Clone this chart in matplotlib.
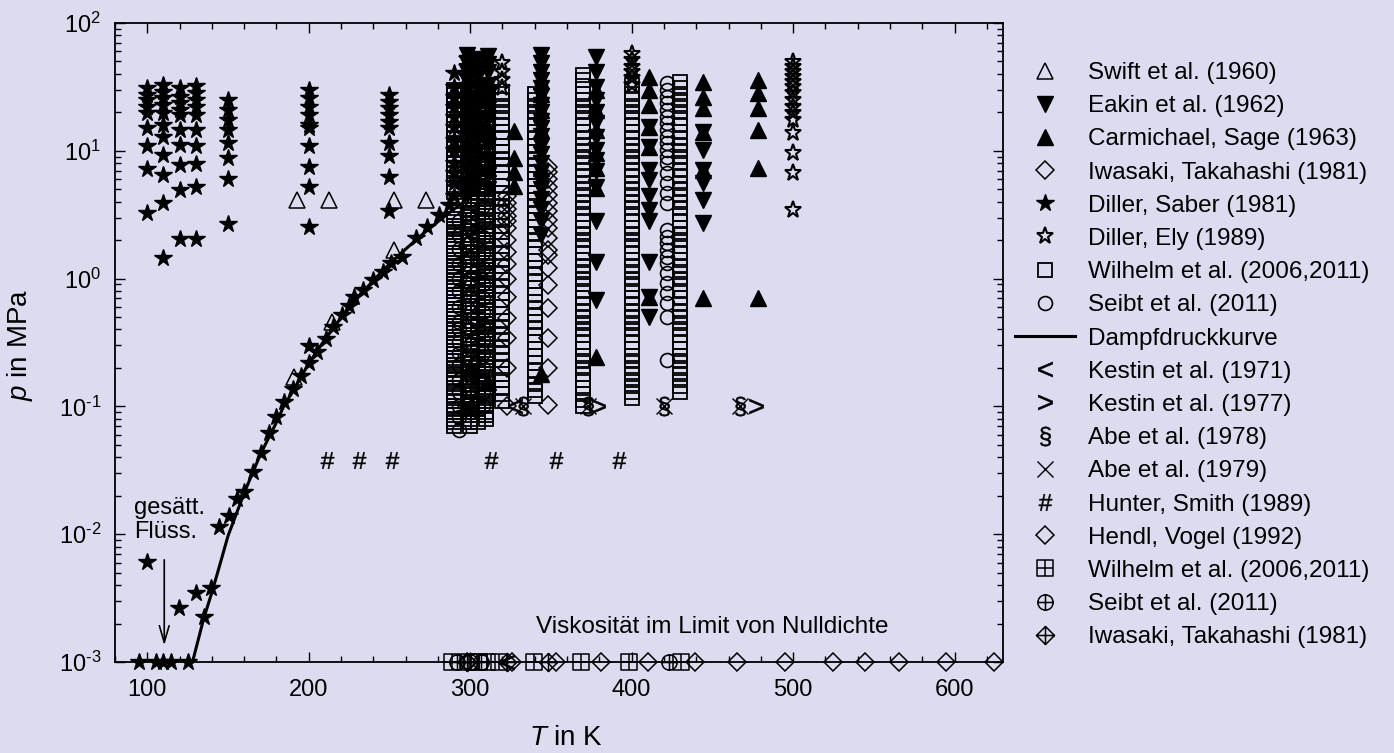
import matplotlib
matplotlib.use('Agg')
import matplotlib.pyplot as plt
from matplotlib.path import Path
from matplotlib.lines import Line2D
from matplotlib.ticker import MultipleLocator, LogLocator, NullFormatter, FuncFormatter
import math

plt.rcParams['font.family'] = ['Liberation Sans', 'DejaVu Sans']
plt.rcParams['mathtext.fontset'] = 'custom'
plt.rcParams['mathtext.rm'] = 'Liberation Sans'
plt.rcParams['mathtext.it'] = 'Liberation Sans:italic'
plt.rcParams['mathtext.bf'] = 'Liberation Sans:bold'

BG = '#dcdcf0'
P0 = 1e-3  # zero-density row (plotted on the axis)

# ---------------- data (T in K, p in MPa) ----------------
# Vapour pressure curve (Dampfdruckkurve)
vp_T = [128, 135, 140, 145, 150, 160, 170, 180, 184.6, 190, 200, 210, 220, 230,
        240, 250, 260, 270, 280, 290, 300, 305.3]
vp_p = [0.001, 0.0022, 0.0035, 0.0058, 0.0097, 0.021, 0.042, 0.075, 0.101, 0.13,
        0.217, 0.334, 0.492, 0.70, 0.967, 1.30, 1.70, 2.20, 2.79, 3.50, 4.35, 4.87]

# Swift et al. (1960)
swift_T = [192.9, 212.7, 252.9, 272.8, 191, 214.6, 253]
swift_p = [4.12, 4.12, 4.12, 4.12, 0.17, 0.46, 1.67]

# Eakin et al. (1962)
eakin = {298: [56, 49, 41, 35, 30, 25, 21, 17, 14, 11, 9, 7, 5.5, 4.5],
         304: [52, 44, 37, 31, 26, 21.5, 17.5, 14.5, 12, 9.8, 8, 6.3, 5.2],
         311: [55, 48, 41, 33, 27, 22, 18, 14, 11, 8.5, 6.5, 5],
         344: [56, 48.5, 41.5, 35.8, 30.8, 27, 23, 20, 17, 15, 13, 11, 9.5, 8,
               6.8, 5.8, 5, 4.2, 3.5, 2.8, 2.2],
         378: [54.6, 41.6, 31.8, 25, 20.2, 16.4, 12.8, 10.1, 8.5, 6.9, 5.2, 2.8,
               1.35, 0.68],
         411: [15.4, 10.8, 7.1, 5.9, 4.4, 3.45, 2.8, 1.35, 0.72, 0.5],
         444: [14.1, 10.1, 7.1, 5.6, 4.1, 2.7]}

# Carmichael, Sage (1963)
carm = {300: [0.205],
        311: [0.156, 35, 28, 21, 14.5, 7.3],
        327: [14.4, 8.8, 6.8, 5.3],
        344: [0.18, 35, 28, 21, 14.5, 7.3],
        378: [29.9, 20.9, 14.6, 9.6, 7.3, 5.1, 0.245],
        411: [38, 29.9, 22.8, 15.4, 10.8, 0.72],
        444: [34.7, 26.5, 21.5, 14.1, 7.1, 0.70],
        478: [35.8, 28.3, 21.6, 14.5, 7.3, 0.70]}

# Iwasaki, Takahashi (1981)
iwa = {298: [0.1, 0.15, 0.25, 0.4, 0.6, 0.9, 1.3, 1.8, 2.5, 3.2],
       323: [0.1, 0.2, 0.34, 0.49, 0.72, 1.0, 1.3, 1.62, 2.0, 2.48, 2.8, 3.1,
             3.5, 3.9, 4.4],
       348: [0.103, 0.2, 0.34, 0.59, 0.89, 1.2, 1.53, 1.68, 2.07, 2.48, 2.9, 3.4,
             3.9, 4.5, 5.2, 6.0, 6.8, 7.5]}

# Diller, Saber (1981)
dsab = {100: [30.8, 27.4, 24.9, 22.1, 19.6, 15.0, 10.9, 7.2, 3.24],
        110: [32.7, 29.0, 25.7, 22.8, 19.6, 15.9, 12.8, 9.27, 6.47, 3.88, 1.44],
        120: [30.8, 26.5, 23.5, 20.9, 19.1, 14.6, 11.1, 7.74, 4.93, 2.03],
        130: [32.1, 28.2, 25.0, 22.1, 19.1, 14.6, 10.9, 7.9, 5.2, 2.03],
        150: [25.0, 20.9, 17.4, 14.6, 11.5, 8.74, 5.98, 2.67],
        200: [29.9, 25.7, 22.1, 19.1, 15.9, 15.0, 10.9, 7.52, 5.24, 2.55],
        250: [27.4, 24.2, 21.5, 19.1, 16.9, 15.0, 11.5, 9.1, 6.27, 3.4],
        290: [40.6, 31.7, 26.5, 22.1, 18.5, 15.4, 12.1, 10.1, 8.0, 6.7, 5.6, 4.4]}
dsab_sat_T = [135.3, 139.4, 144.6, 150.8, 155.3, 160, 165.2, 170.3, 175.1, 179.6,
              184.8, 190, 195.2, 200.3, 205.4, 210.6, 215.3, 220.5, 225, 228.2,
              233.3, 239.5, 245.7, 250.9, 258, 266.3, 273.5, 280.8, 287,
              100, 119.8, 130.1, 200.3]
dsab_sat_p = [0.00226, 0.00377, 0.01145, 0.0139, 0.019, 0.0215, 0.0308, 0.043,
              0.0622, 0.083, 0.109, 0.136, 0.173, 0.217, 0.268, 0.335, 0.42, 0.519,
              0.61, 0.72, 0.81, 0.975, 1.13, 1.32, 1.48, 2.06, 2.55, 3.15, 3.77,
              0.0061, 0.00263, 0.00349, 0.297]
dsab_liq_T = [95, 105.4, 109.5, 114.7, 125]   # saturated liquid, drawn on axis

# Diller, Ely (1989)
dely = {298: [52, 45, 38],
        320: [48.5, 41.5, 35.8, 30.8],
        400: [57, 51, 45.5, 41, 37, 33],
        500: [49.8, 45.5, 41.6, 38.0, 34.7, 31.4, 28.2, 25.0, 22.1, 19.6, 17.4,
              13.7, 9.67, 6.74, 3.44]}

# Wilhelm et al. (2006, 2011)
wil = {
    290: [0.07, 0.075, 0.08, 0.085, 0.09, 0.095, 0.10, 0.11, 0.12, 0.13, 0.14, 0.15,
          0.16, 0.17, 0.18, 0.195, 0.21, 0.225, 0.24, 0.255, 0.27, 0.29, 0.31,
          0.33, 0.35, 0.375, 0.40, 0.425, 0.45, 0.48, 0.51, 0.545, 0.58, 0.62,
          0.66, 0.705, 0.75, 0.8, 0.85, 0.9, 0.96, 1.03, 1.1, 1.17, 1.25, 1.33,
          1.4, 1.5, 1.6, 1.7, 1.8, 1.92, 2.05, 2.18, 2.3, 2.45, 2.6, 2.78, 2.95,
          3.12, 3.3, 4.8, 5.4, 6.0, 6.6, 7.2, 7.9, 8.6, 9.4, 10.3, 11.3, 12.3,
          13.5, 14.7, 16.1, 17.6, 19.2, 21, 23, 25, 27.5, 30],
    300: [0.07, 0.075, 0.08, 0.085, 0.09, 0.095, 0.10, 0.107, 0.115, 0.122, 0.13,
          0.14, 0.15, 0.16, 0.17, 0.185, 0.2, 0.215, 0.23, 0.245, 0.26, 0.28, 0.3,
          0.32, 0.34, 0.365, 0.39, 0.415, 0.44, 0.47, 0.5, 0.535, 0.57, 0.61,
          0.65, 0.695, 0.74, 0.79, 0.84, 0.9, 0.95, 1.01, 1.08, 1.15, 1.23, 1.31,
          1.4, 1.5, 1.6, 1.71, 1.82, 1.94, 2.07, 2.21, 2.36, 2.53, 2.7, 2.87,
          3.05, 3.25, 3.45, 3.67, 3.9, 4.05, 4.2, 5.0, 5.5, 6.0, 6.6, 7.2, 7.9,
          8.7, 9.5, 10.4, 11.4, 12.5, 13.7, 15, 16.4, 18, 19.7, 21.6, 23.6, 25.9,
          28.3],
    305: [0.075, 0.085, 0.095, 0.105, 0.12, 0.135, 0.15, 0.17, 0.19, 0.215, 0.24,
          0.27, 0.3, 0.34, 0.38, 0.43, 0.48, 0.54, 0.61, 0.69, 0.78, 0.88, 0.99,
          1.12, 1.26, 1.42, 1.6, 1.8, 2.03, 2.29, 2.58, 2.91, 3.28, 3.7, 4.17,
          4.7, 5.3, 6.0, 6.8, 7.7, 8.7, 9.8, 11, 12.4, 14, 15.8, 17.8, 20, 22.6,
          25.5, 29],
    310: [0.08, 0.085, 0.09, 0.1, 0.105, 0.11, 0.12, 0.125, 0.14, 0.15, 0.16,
          0.17, 0.18, 0.2, 0.215, 0.23, 0.245, 0.26, 0.29, 0.31, 0.33, 0.35,
          0.37, 0.395, 0.42, 0.445, 0.47, 0.5, 0.53, 0.565, 0.6, 0.64, 0.68,
          0.72, 0.77, 0.82, 0.87, 0.92, 0.98, 1.04, 1.1, 1.17, 1.25, 1.33, 1.4,
          1.5, 1.6, 1.7, 1.8, 1.9, 2.0, 2.15, 2.3, 2.45, 2.6, 2.75, 2.9, 3.1,
          3.3, 3.5, 3.7, 3.95, 4.2, 4.45, 4.7, 5.0, 5.3, 5.65, 6.0, 6.4, 6.8,
          7.25, 7.7, 8.2, 8.7, 9.25, 9.8, 10.4, 11, 11.7, 12.5, 13.2, 14, 15,
          16, 17, 18, 19, 20, 21.5, 23, 24.5, 26, 28, 30],
    320: [0.11, 0.125, 0.14, 0.16, 0.18, 0.2, 0.23, 0.26, 0.29, 0.33, 0.37, 0.42,
          0.47, 0.53, 0.6, 0.68, 0.77, 0.87, 0.98, 1.1, 1.25, 1.4, 1.6, 1.8, 2.0,
          2.3, 2.6, 2.9, 3.3, 3.7, 4.2, 4.7, 5.3, 6.0, 6.8, 7.7, 8.7, 9.8, 11,
          12.5, 14, 16, 18, 20, 22.5, 25, 28],
    340: [0.12, 0.135, 0.15, 0.17, 0.19, 0.22, 0.25, 0.28, 0.32, 0.36, 0.41, 0.46,
          0.52, 0.59, 0.66, 0.75, 0.85, 0.96, 1.08, 1.22, 1.38, 1.56, 1.76, 2.0,
          2.25, 2.55, 2.9, 3.25, 3.7, 4.15, 4.7, 5.3, 6.0, 6.8, 7.7, 8.7, 9.8, 11,
          12.5, 14, 16, 18, 20, 22.5, 25, 28],
    370: [0.1, 0.112, 0.125, 0.14, 0.16, 0.18, 0.2, 0.225, 0.25, 0.28, 0.32, 0.36,
          0.4, 0.45, 0.5, 0.56, 0.63, 0.71, 0.8, 0.9, 1.0, 1.12, 1.25, 1.4, 1.6,
          1.8, 2.0, 2.25, 2.5, 2.8, 3.2, 3.6, 4.0, 4.5, 5.0, 5.6, 6.3, 7.1, 8.0,
          9.0, 10, 11.2, 12.5, 14, 16, 18, 20, 22.5, 25, 28, 32, 35.5, 39],
    400: [0.117, 0.13, 0.145, 0.16, 0.18, 0.2, 0.225, 0.25, 0.28, 0.32, 0.36, 0.4,
          0.45, 0.5, 0.56, 0.63, 0.71, 0.8, 0.9, 1.0, 1.12, 1.25, 1.4, 1.6, 1.8,
          2.0, 2.25, 2.5, 2.8, 3.2, 3.6, 4.0, 4.5, 5.0, 5.6, 6.3, 7.1, 8.0, 9.0,
          10, 11.2, 12.5, 14, 16, 18, 20, 22.5, 25, 28, 32.7],
    430: [0.13, 0.145, 0.16, 0.18, 0.2, 0.225, 0.25, 0.28, 0.32, 0.36, 0.4, 0.45,
          0.5, 0.56, 0.63, 0.71, 0.8, 0.9, 1.0, 1.12, 1.25, 1.4, 1.6, 1.8, 2.0,
          2.25, 2.5, 2.8, 3.2, 3.6, 4.0, 4.5, 5.0, 5.6, 6.3, 7.1, 8.0, 9.0, 10,
          11.2, 12.5, 14, 16, 18, 20, 22.5, 25, 28, 31, 34.7]}

# Seibt et al. (2011)
seibt = {293: [0.065, 0.083, 0.1, 0.13, 0.16, 0.21, 0.26, 0.32, 0.4, 0.46, 0.6,
               0.8, 1.0, 1.3, 1.7, 2.2, 2.8],
         300: [0.09, 0.11, 0.14, 0.18, 0.23, 0.3, 0.4, 0.55, 0.75, 1.0, 1.4, 1.9,
               2.6, 3.5],
         308: [0.1, 0.13, 0.16, 0.2, 0.26, 0.33, 0.42, 0.55, 0.7, 0.9, 1.2, 1.6,
               2.1, 2.8, 3.7, 5, 6.5, 8.5, 11, 14.5, 19, 25, 30],
         422: [33.7, 29.9, 26.5, 23.5, 20.9, 18.5, 16.4, 14.6, 12.9, 11.5, 10.1,
               9.0, 8.0, 6.7, 5.6, 4.66, 3.9, 2.4, 2.13, 1.89, 1.68, 1.48, 1.32,
               1.1, 0.92, 0.77, 0.64, 0.50, 0.23]}

# Atmospheric / zero-density data
kestin71_T = [298, 328]
kestin71_p = [0.1, 0.1]
kestin71_0_T = [323]
kestin77_T = [379, 477]
kestin77_p = [0.1, 0.1]
abe78_T = [298, 333, 373, 420, 467]
abe78_p = [0.1, 0.1, 0.1, 0.1, 0.1]
abe79_T = [333, 373, 420, 467]
abe79_p = [0.1, 0.1, 0.1, 0.1]
hunter_T = [211.5, 231, 251.7, 312.8, 353, 392.3]
hunter_p = [0.038, 0.038, 0.038, 0.038, 0.038, 0.038]
hendl0_T = [298, 326, 353, 381, 410, 439, 465.5, 495, 524.4, 544.4, 565.6, 594.5,
            624.5]
wil0_T = [289, 299.4, 305.6, 310.7, 318, 339.6, 368.5, 398.5, 430.5]
seibt0_T = [292, 300, 306.5, 423]
iwa0_T = [298, 323, 348]


def flat(d):
    T, p = [], []
    for t, ps in d.items():
        T += [t] * len(ps)
        p += list(ps)
    return T, p


# custom markers
MV, LN, CL = Path.MOVETO, Path.LINETO, Path.CLOSEPOLY
hline = Path([(-1, 0), (1, 0)], [MV, LN])
vline = Path([(0, -1), (0, 1)], [MV, LN])
sq = Path([(-1, -1), (1, -1), (1, 1), (-1, 1), (-1, -1)], [MV, LN, LN, LN, CL])
dia = Path([(0, 1), (1, 0), (0, -1), (-1, 0), (0, 1)], [MV, LN, LN, LN, CL])
boxplus = Path.make_compound_path(sq, hline, vline)
oplus = Path.make_compound_path(Path.unit_circle(), hline, vline)
diaplus = Path.make_compound_path(dia, hline, vline)

K = 'black'
styles = [
    ('Swift et al. (1960)', dict(marker='^', ms=12, mfc='none', mec=K, mew=1.1)),
    ('Eakin et al. (1962)', dict(marker='v', ms=12, mfc=K, mec=K, mew=1.0)),
    ('Carmichael, Sage (1963)', dict(marker='^', ms=12, mfc=K, mec=K, mew=1.0)),
    ('Iwasaki, Takahashi (1981)', dict(marker='D', ms=9, mfc='none', mec=K, mew=1.1)),
    ('Diller, Saber (1981)', dict(marker='*', ms=13, mfc=K, mec=K, mew=1.0)),
    ('Diller, Ely (1989)', dict(marker='*', ms=12.5, mfc='none', mec=K, mew=1.5)),
    ('Wilhelm et al. (2006,2011)', dict(marker='s', ms=9.5, mfc='none', mec=K, mew=1.3)),
    ('Seibt et al. (2011)', dict(marker='o', ms=10, mfc='none', mec=K, mew=1.2)),
    ('Dampfdruckkurve', dict(ls='-', lw=2.2, color=K)),
    ('Kestin et al. (1971)', dict(marker='$<$', ms=11, mfc=K, mec=K, mew=0.3)),
    ('Kestin et al. (1977)', dict(marker='$>$', ms=11, mfc=K, mec=K, mew=0.3)),
    ('Abe et al. (1978)', dict(marker='$§$', ms=14, mfc=K, mec=K, mew=0.3)),
    ('Abe et al. (1979)', dict(marker='x', ms=12, mfc=K, mec=K, mew=1.0)),
    ('Hunter, Smith (1989)', dict(marker='$\\#$', ms=12, mfc=K, mec=K, mew=0.3)),
    ('Hendl, Vogel (1992)', dict(marker='D', ms=9, mfc='none', mec=K, mew=1.1)),
    ('Wilhelm et al. (2006,2011)', dict(marker=boxplus, ms=11, mfc='none', mec=K, mew=1.1)),
    ('Seibt et al. (2011)', dict(marker=oplus, ms=11, mfc='none', mec=K, mew=1.1)),
    ('Iwasaki, Takahashi (1981)', dict(marker=diaplus, ms=13, mfc='none', mec=K, mew=1.1)),
]
S = [s for _, s in styles]

fig = plt.figure(figsize=(13.94, 7.53), dpi=100)
fig.patch.set_facecolor(BG)
ax = fig.add_axes([115 / 1394, 91 / 753, 888 / 1394, 639 / 753])
ax.set_facecolor(BG)
ax.set_yscale('log')
ax.set_xlim(80, 630)
ax.set_ylim(1e-3, 1e2)


def draw(T, p, st, z=4):
    ax.plot(T, p, ls='none', clip_on=False, zorder=z, **st)


# vapour pressure curve
ax.plot(vp_T, vp_p, clip_on=False, zorder=3, **S[8])

draw(*flat(wil), S[6])
draw(*flat(seibt), S[7])
draw(*flat(iwa), S[3])
draw(swift_T, swift_p, S[0])
draw(*flat(eakin), S[1])
draw(*flat(carm), S[2])
draw(*flat(dsab), S[4])
draw(dsab_sat_T, dsab_sat_p, S[4])
draw(dsab_liq_T, [P0] * len(dsab_liq_T), S[4])
draw(*flat(dely), S[5])
draw(kestin71_T, kestin71_p, S[9])
draw(kestin71_0_T, [P0] * len(kestin71_0_T), S[9])
draw(kestin77_T, kestin77_p, S[10])
draw(abe78_T, abe78_p, S[11])
draw(abe79_T, abe79_p, S[12])
draw(hunter_T, hunter_p, S[13])
draw(hendl0_T, [P0] * len(hendl0_T), S[14])
draw(wil0_T, [P0] * len(wil0_T), S[15])
draw(seibt0_T, [P0] * len(seibt0_T), S[16])
draw(iwa0_T, [P0] * len(iwa0_T), S[17])

# axes styling
for sp in ax.spines.values():
    sp.set_linewidth(1.3)
ax.xaxis.set_major_locator(MultipleLocator(100))
ax.xaxis.set_minor_locator(MultipleLocator(20))
ax.yaxis.set_major_locator(LogLocator(base=10))
ax.yaxis.set_minor_locator(LogLocator(base=10, subs=[2, 3, 4, 5, 6, 7, 8, 9]))
ax.yaxis.set_minor_formatter(NullFormatter())


def yfmt(v, pos):
    e = int(round(math.log10(v)))
    s = str(e).replace('-', '\u2010')
    return '$\\mathdefault{10^{' + s + '}}$'


ax.yaxis.set_major_formatter(FuncFormatter(yfmt))
ax.tick_params(which='both', direction='in', top=True, right=True, width=1.0)
ax.tick_params(which='major', length=7)
ax.tick_params(which='minor', length=4.5)
ax.tick_params(axis='x', labelsize=17, pad=12)
ax.tick_params(axis='y', labelsize=17, pad=10)

fig.text(20 / 1394, 1 - 345 / 753, '$p$ in MPa', rotation=90, ha='center',
         va='center', fontsize=20)
fig.text(566 / 1394, 1 - 738 / 753, '$T$ in K', ha='center', va='center',
         fontsize=20)

# annotations
ax.text(92, 0.0195, 'gesätt.\nFlüss.', fontsize=17, ha='left', va='top',
        linespacing=1.1)
ax.annotate('', xy=(110.5, 0.00135), xytext=(110.5, 0.0063),
            arrowprops=dict(arrowstyle='->,head_length=0.75,head_width=0.22',
                            lw=1.2, color=K, shrinkA=0, shrinkB=0),
            fontsize=16)
ax.text(340.9, 0.00188, 'Viskosität im Limit von Nulldichte', fontsize=17.5,
        ha='left', va='center')

# legend
handles = []
for lab, st in styles:
    if 'marker' in st:
        handles.append(Line2D([], [], ls='none', **st))
    else:
        handles.append(Line2D([], [], **st))
labels = [lab for lab, _ in styles]
fig.legend(handles, labels, loc='upper left', bbox_to_anchor=(1015 / 1394, 1 - 62 / 753),
           frameon=False, fontsize=17.5, handlelength=2.45, handletextpad=0.55,
           labelspacing=0.46, borderpad=0, borderaxespad=0, numpoints=1)

fig.savefig('out.png', dpi=100, facecolor=BG)
